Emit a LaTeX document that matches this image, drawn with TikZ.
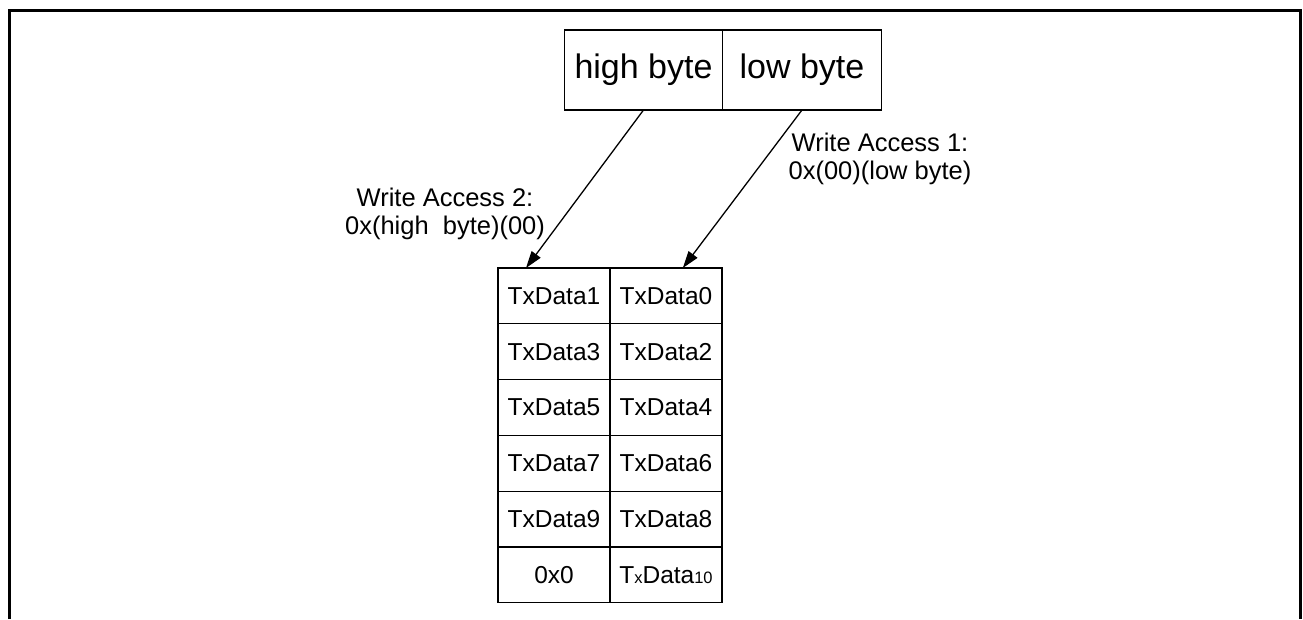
\documentclass[tikz,border=0pt]{standalone}
\usepackage{fontspec}
\setmainfont{Liberation Sans}
\usepackage{tikz}
\usetikzlibrary{positioning}
\usetikzlibrary{calc,arrows.meta}

\begin{document}
\begin{tikzpicture}[x=1pt, y=1pt,
	bytebox/.style={draw, line width=1.1pt, outer sep=0pt, minimum width=158.5pt, minimum height=80pt, inner sep=0pt, font=\fontsize{34}{38}\selectfont},
	cell/.style={draw, line width=1.1pt, outer sep=0pt, minimum width=112pt, minimum height=55.8pt, inner sep=0pt, font=\fontsize{24.5}{28}\selectfont},
	access/.style={align=center, font=\fontsize{25.5}{28}\selectfont},
	wr/.style={line width=1.3pt, -{Triangle[length=17pt, width=11pt]}}]
	\useasboundingbox (0,0) rectangle (1303,619);
	
	% draw frame
	\draw [line width=3pt] (9,0) -- (9,608) -- (1300,608) -- (1300,0);
	
	% draw register
	\node [bytebox] (hb) at (643.5,549) {high byte};
	\node [bytebox, right=0pt of hb] (lb) {low byte};
	
	% draw buffer
	\node [cell] (tx1) at (554,323.1) {TxData1};
	\node [cell, right=0pt of tx1] (tx0) {TxData0};
	\node [cell, below=0pt of tx1] (tx3) {TxData3};
	\node [cell, right=0pt of tx3] (tx2) {TxData2};
	\node [cell, below=0pt of tx3] (tx5) {TxData5};
	\node [cell, right=0pt of tx5] (tx4) {TxData4};
	\node [cell, below=0pt of tx5] (tx7) {TxData7};
	\node [cell, right=0pt of tx7] (tx6) {TxData6};
	\node [cell, below=0pt of tx7] (tx9) {TxData9};
	\node [cell, right=0pt of tx9] (tx8) {TxData8};
	\node [cell, below=0pt of tx9] (pad) {0x0};
	\node [cell, right=0pt of pad] (tx10) {T{\fontsize{16.5}{20}\selectfont x}Data{\fontsize{16.5}{20}\selectfont 10}};
	
	% draw accesses
	\draw [wr] (hb.south) -- ($(tx1.north west)!0.25!(tx1.north east)$);
	\draw [wr] (lb.south) -- ($(tx0.north west)!0.65!(tx0.north east)$);
	\node [access] (wa2) at (445,405) {Write Access 2:\\0x(high\ \ byte)(00)};
	\node [access] (wa1) at (880,460) {Write Access 1:\\0x(00)(low byte)};
\end{tikzpicture}
\end{document}
